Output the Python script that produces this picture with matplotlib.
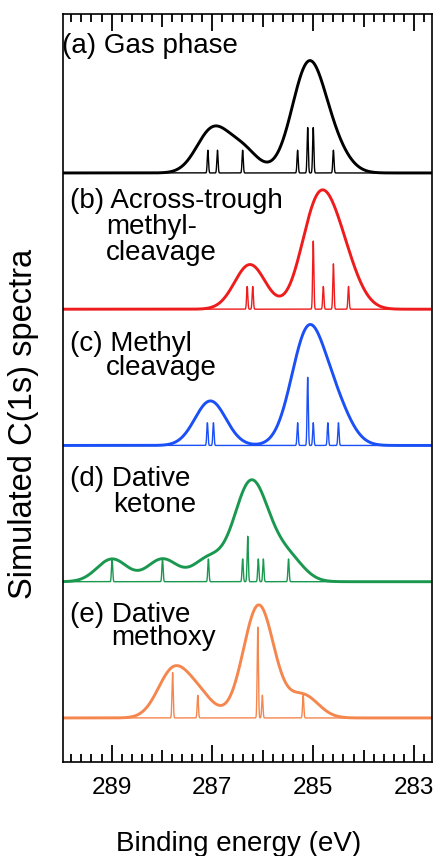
import numpy as np
import matplotlib
matplotlib.use("Agg")
import matplotlib.pyplot as plt
from matplotlib.ticker import FixedLocator, MultipleLocator, FuncFormatter

plt.rcParams['font.family'] = ['Liberation Sans', 'DejaVu Sans']

# stick positions (eV) and relative intensities
gas_e = [287.09, 286.90, 286.40, 285.31, 285.11, 285.00, 284.60]
gas_h = [1, 1, 1, 1, 2, 2, 1]
across_e = [286.31, 286.20, 285.00, 284.80, 284.60, 284.30]
across_h = [1, 1, 3, 1, 2, 1]
methyl_e = [287.10, 286.98, 285.31, 285.11, 285.00, 284.71, 284.50]
methyl_h = [1, 1, 1, 3, 1, 1, 1]
ketone_e = [288.99, 287.99, 287.08, 286.40, 286.30, 286.09, 285.99, 285.49]
ketone_h = [1, 1, 1, 1, 2, 1, 1, 1]
methoxy_e = [287.79, 287.29, 286.10, 286.01, 285.20]
methoxy_h = [2, 1, 4, 1, 1]

broadening = 0.30   # gaussian sigma of envelope, eV
stick_width = 0.012

spectra = [
    (gas_e, gas_h, "black", 24),
    (across_e, across_h, "#ee1c1c", 18),
    (methyl_e, methyl_h, "#1b50f7", 12),
    (ketone_e, ketone_h, "#1a9850", 6),
    (methoxy_e, methoxy_h, "#f5864e", 0),
]

W, H = 439, 856
L, R, T, B = 62.7, 431.7, 14.0, 762.0
xmin, xmax = 289.97, 282.65

fig = plt.figure(figsize=(W / 100, H / 100), dpi=100)
ax = fig.add_axes([L / W, 1 - B / H, (R - L) / W, (B - T) / H])


def px(x, y):
    return (x - L) / (R - L), (B - y) / (B - T)


def broaden(grid, pos, hts, sig):
    out = np.zeros_like(grid)
    for p, h in zip(pos, hts):
        out += h * np.exp(-(grid - p) ** 2 / (2 * sig ** 2))
    return out


E = np.linspace(xmin, xmax, 9000)
for pos, hts, col, off in spectra:
    ax.plot(E, off + broaden(E, pos, hts, stick_width), color=col, lw=1.0)
    ax.plot(E, off + broaden(E, pos, hts, broadening), color=col, lw=2.1)

ax.set_xlim(xmin, xmax)
ax.set_ylim(-1.94, 31.0)
ax.set_yticks([])

majors = [289, 288, 287, 286, 285, 284, 283]
ax.xaxis.set_major_locator(FixedLocator(majors))
ax.xaxis.set_minor_locator(MultipleLocator(0.2))
ax.xaxis.set_major_formatter(FuncFormatter(lambda v, p: f"{v:.0f}" if int(round(v)) % 2 else ""))
ax.tick_params(axis='x', which='both', direction='in', top=True, bottom=True,
               width=1.3, color='black')
ax.tick_params(axis='x', which='major', length=9, labelsize=17.5, pad=11)
ax.tick_params(axis='x', which='minor', length=5.5)
# odd eV ticks a bit longer
for loc, t in zip(majors, ax.xaxis.get_major_ticks()):
    if loc % 2:
        t.tick1line.set_markersize(12.5)
        t.tick2line.set_markersize(12.5)
for s in ax.spines.values():
    s.set_linewidth(1.2)

labels = [
    ("(a) Gas phase", 62, 53),
    ("(b) Across-trough", 69.7, 208.3),
    ("methyl-", 106, 234),
    ("cleavage", 106, 259.5),
    ("(c) Methyl", 69.7, 350.7),
    ("cleavage", 106, 375),
    ("(d) Dative", 69.7, 486),
    ("ketone", 113, 511.7),
    ("(e) Dative", 69.7, 621.7),
    ("methoxy", 111.5, 645),
]
for txt, x, y in labels:
    ax.text(*px(x, y), txt, transform=ax.transAxes, fontsize=20, va='baseline', ha='left')

fig.text(24 / W, 1 - 423.5 / H, "Simulated C(1s) spectra", rotation=90,
         ha='center', va='center', fontsize=23.5)
fig.text(239 / W, 1 - 851 / H, "Binding energy (eV)", ha='center', va='baseline', fontsize=20)

plt.savefig("out.png", dpi=100)
